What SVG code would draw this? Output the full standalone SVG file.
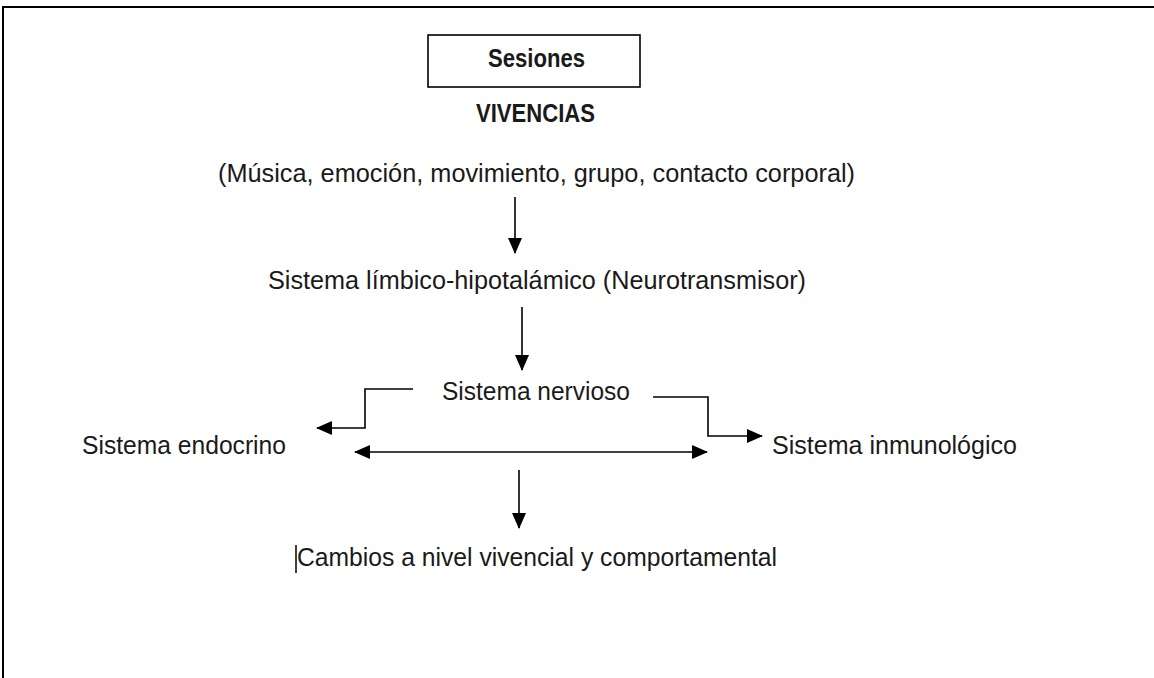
<svg xmlns="http://www.w3.org/2000/svg" width="1154" height="678" viewBox="0 0 1154 678">
<defs>
<style>
.t{font-family:"Liberation Sans",Arial,sans-serif;font-size:25px;fill:#1a1a1a}
.b{font-weight:bold}
.c{stroke:#000;stroke-width:1.6;fill:none}
</style>
<marker id="ah" markerUnits="userSpaceOnUse" markerWidth="16" markerHeight="14" refX="15" refY="7" orient="auto-start-reverse">
<path d="M0,0 L16,7 L0,14 Z" fill="#000"/>
</marker>
</defs>
<rect width="1154" height="678" fill="#fff"/>
<g id="frame">
<path d="M3,678 V7 H1154" stroke="#000" stroke-width="2" fill="none"/>
</g>
<g id="sesiones">
<rect x="428" y="35" width="212" height="52" fill="none" stroke="#000" stroke-width="1.6"/>
<text class="t b" x="488" y="67" textLength="97" lengthAdjust="spacingAndGlyphs">Sesiones</text>
</g>
<g id="vivencias">
<text class="t b" x="476" y="122" textLength="119" lengthAdjust="spacingAndGlyphs">VIVENCIAS</text>
</g>
<g id="elementos">
<text class="t" x="218" y="182" textLength="637" lengthAdjust="spacingAndGlyphs">(Música, emoción, movimiento, grupo, contacto corporal)</text>
</g>
<g id="limbico">
<text class="t" x="268" y="289" textLength="538" lengthAdjust="spacingAndGlyphs">Sistema límbico-hipotalámico (Neurotransmisor)</text>
</g>
<g id="nervioso">
<text class="t" x="442" y="400" textLength="188" lengthAdjust="spacingAndGlyphs">Sistema nervioso</text>
</g>
<g id="endocrino">
<text class="t" x="82" y="454" textLength="204" lengthAdjust="spacingAndGlyphs">Sistema endocrino</text>
</g>
<g id="inmunologico">
<text class="t" x="772" y="454" textLength="245" lengthAdjust="spacingAndGlyphs">Sistema inmunológico</text>
</g>
<g id="cambios">
<line x1="296" y1="545" x2="296" y2="573" stroke="#000" stroke-width="1.5"/>
<text class="t" x="297" y="566" textLength="480" lengthAdjust="spacingAndGlyphs">Cambios a nivel vivencial y comportamental</text>
</g>
<g id="connectors">
<line class="c" x1="515" y1="197" x2="515" y2="253" marker-end="url(#ah)"/>
<line class="c" x1="522" y1="307" x2="522" y2="370" marker-end="url(#ah)"/>
<polyline class="c" points="413,389 365,389 365,428 317,428" marker-end="url(#ah)"/>
<polyline class="c" points="653,397 708,397 708,436 762,436" marker-end="url(#ah)"/>
<line class="c" x1="355" y1="452" x2="707" y2="452" marker-start="url(#ah)" marker-end="url(#ah)"/>
<line class="c" x1="519" y1="470" x2="519" y2="528" marker-end="url(#ah)"/>
</g>
</svg>
